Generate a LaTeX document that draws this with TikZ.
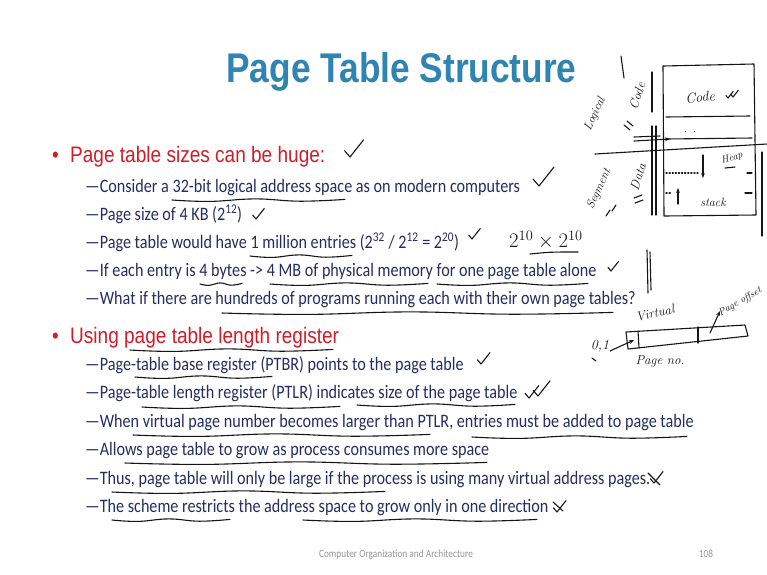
\documentclass[tikz,border=0pt]{standalone}
\usepackage{fontspec}
\newfontfamily\arialfont[FakeStretch=0.85]{Liberation Sans}
\newfontfamily\bodyfont[FakeStretch=0.85]{Carlito}
\usetikzlibrary{arrows.meta}

\definecolor{titleblue}{RGB}{48,132,178}
\definecolor{bulletred}{RGB}{206,30,42}
\definecolor{bodynavy}{RGB}{36,46,96}
\definecolor{footgrey}{RGB}{150,150,150}
\definecolor{ink}{RGB}{22,22,22}

% wavy hand-drawn underline from x=#1 to x=#2 at height #3
\newcommand\wavyline[3]{%
  \draw[hand] plot[smooth,tension=0.7] coordinates {(#1,#3) ({#1+0.22*(#2-#1)},{#3+1.4}) ({#1+0.48*(#2-#1)},{#3-1.1}) ({#1+0.74*(#2-#1)},{#3+1.2}) (#2,{#3-0.6})};}
% hand-drawn tick mark with its low point near (#1,#2), size #3
\newcommand\tickmark[3]{%
  \draw[hand] (#1,#2) ++({-0.3*#3},{-0.35*#3}) -- (#1,#2) -- ++({0.75*#3},{-0.95*#3});}

\tikzset{
  slidetitle/.style={anchor=base, inner sep=0, text=titleblue,
    font=\arialfont\bfseries\fontsize{41.5}{45}\selectfont},
  lvlone/.style={anchor=base west, inner sep=0, text=bulletred,
    font=\arialfont\fontsize{22.4}{26}\selectfont},
  lvltwo/.style={anchor=base west, inner sep=0, text=bodynavy,
    font=\bodyfont\fontsize{19}{23}\selectfont},
  foot/.style={anchor=base, inner sep=0, text=footgrey,
    font=\bodyfont\fontsize{11}{13}\selectfont},
  hand/.style={draw=ink, line width=1.1pt, line cap=round, line join=round},
  handtext/.style={inner sep=0, text=ink, font=\itshape\fontsize{12}{12}\selectfont},
}

\begin{document}
\begin{tikzpicture}[x=1pt,y=-1pt]
\useasboundingbox[fill=white] (0,0) rectangle (767,574);

% ---- title ----
\node[slidetitle] (title) at (401.5,82) {Page Table Structure};

% ---- first bullet ----
\node[lvlone] (b1dot) at (52,162) {\textbullet};
\node[lvlone] (b1) at (70,162) {Page table sizes can be huge:};
\node[lvltwo] (s11) at (85,192) {—Consider a 32-bit logical address space as on modern computers};
\node[lvltwo] (s12) at (85,220) {—Page size of 4 KB (2\textsuperscript{12})};
\node[lvltwo] (s13) at (85,248) {—Page table would have 1 million entries (2\textsuperscript{32} / 2\textsuperscript{12} = 2\textsuperscript{20})};
\node[lvltwo] (s14) at (85,276) {—If each entry is 4 bytes -> 4 MB of physical memory for one page table alone};
\node[lvltwo] (s15) at (85,304) {—What if there are hundreds of programs running each with their own page tables?};

% ---- second bullet ----
\node[lvlone] (b2dot) at (52,343) {\textbullet};
\node[lvlone] (b2) at (70,343) {Using page table length register};
\node[lvltwo] (s21) at (85,370) {—Page-table base register (PTBR) points to the page table};
\node[lvltwo] (s22) at (85,398.5) {—Page-table length register (PTLR) indicates size of the page table};
\node[lvltwo] (s23) at (85,427) {—When virtual page number becomes larger than PTLR, entries must be added to page table};
\node[lvltwo] (s24) at (85,455.5) {—Allows page table to grow as process consumes more space};
\node[lvltwo] (s25) at (85,484) {—Thus, page table will only be large if the process is using many virtual address pages.};
\node[lvltwo] (s26) at (85,512) {—The scheme restricts the address space to grow only in one direction};

% ---- footer ----
\node[foot] (footer) at (396,557) {Computer Organization and Architecture};
\node[foot] (pageno) at (706,557) {108};

% ---- hand-drawn underlines ----
\wavyline{172}{345}{200}
\wavyline{250}{352}{256}
\wavyline{200}{242}{284}
\wavyline{270}{428}{284}
\wavyline{437}{588}{284}
\wavyline{222}{613}{313}
\wavyline{130}{333}{350}
\wavyline{135}{272}{377}
\wavyline{142}{340}{407}
\wavyline{357}{515}{405}
\wavyline{133}{430}{435}
\wavyline{472}{687}{437}
\wavyline{125}{487}{463}
\wavyline{112}{385}{492}
\wavyline{112}{230}{520}
\wavyline{303}{537}{520}

% ---- tick marks ----
\tickmark{350}{157}{18}
\tickmark{539}{186}{20}
\tickmark{256}{219}{11}
\tickmark{472}{239}{11}
\tickmark{611}{271}{10}
\tickmark{481}{364}{12}
\tickmark{529}{398}{13}
\tickmark{538}{396}{16}
\tickmark{654}{483}{12}
\draw[hand] (648,473) -- (660,485);
\tickmark{557}{512}{12}
\draw[hand] (553,502) -- (563,511);

% ---- 2^10 x 2^10 note ----
\node[handtext, font=\fontsize{21}{21}\selectfont] (pow) at (546,240) {$2^{10}\times 2^{10}$};
\draw[hand] (530,254) .. controls (550,252) .. (578,252);
\draw[hand] (647,250) -- (648,293);
\draw[hand] (650,252) -- (651,290);

% ---- memory layout sketch ----
\draw[hand] (663,66) -- (754,64) -- (756,215) -- (664,216) -- cycle;
\draw[hand] (666,117) -- (750,116);
\draw[hand] (666,139) -- (752,138);
\draw[hand] (595,154) -- (767,144);
\draw[hand] (652,72) -- (652,112);
\draw[hand] (652,126) -- (652,215);
\draw[hand] (656,126) -- (656,215);
\draw[hand] (621,56) -- (624,78);
\draw[hand, -{Stealth[length=5pt]}] (634,141) -- (670,139);
\draw[hand] (634,137) -- (660,136);
\draw[hand] (762,152) -- (762,236);
\node[handtext, font=\itshape\fontsize{14}{14}\selectfont, rotate=5] (code) at (700,97) {Code};
\tickmark{728}{98}{7}
\tickmark{733}{97}{7}
\node[handtext] (dots1) at (690,132) {. .};
\draw[hand, dotted, line width=1.2pt] (666,173) -- (698,173);
\draw[hand] (747,173) -- (752,173);
\draw[hand, -{Stealth[length=5pt]}] (703,155) -- (703,178);
\node[handtext, font=\itshape\fontsize{10}{10}\selectfont, rotate=15] (heap) at (732,158) {Heap};
\draw[hand] (725,168) -- (735,167);
\draw[hand, dotted, line width=1.2pt] (666,193) -- (672,193);
\draw[hand] (745,193) -- (752,193);
\draw[hand, -{Stealth[length=5pt]}] (678,204) -- (678,188);
\node[handtext, font=\itshape\fontsize{12}{12}\selectfont] (stack) at (713,202) {stack};
\node[handtext, font=\itshape\fontsize{12}{12}\selectfont, rotate=65] (logical) at (595,114) {Logical};
\node[handtext, font=\itshape\fontsize{13}{13}\selectfont, rotate=72] (lcode) at (637,96) {Code};
\draw[hand] (627,121) -- (633,126);
\draw[hand] (624,125) -- (630,130);
\node[handtext, font=\itshape\fontsize{12}{12}\selectfont, rotate=65] (segment) at (599,189) {Segment};
\node[handtext, font=\itshape\fontsize{13}{13}\selectfont, rotate=72] (data) at (638,177) {Data};
\draw[hand] (634,198) -- (642,195);
\draw[hand] (635,203) -- (643,200);
\draw[hand] (610,210) -- (606,216);
\draw[hand] (616,205) -- (612,211);

% ---- virtual address sketch ----
\draw[hand] (626,332) -- (745,325) -- (748,336) -- (628,349) -- cycle;
\draw[hand] (638,331) -- (639,348);
\draw[hand] (698,327) -- (698,343);
\node[handtext, font=\itshape\fontsize{13}{13}\selectfont, rotate=12] (virt) at (655,313) {Virtual};
\node[handtext, font=\itshape\fontsize{13}{13}\selectfont] (pgno) at (660,361) {Page no.};
\node[handtext, font=\itshape\fontsize{10}{10}\selectfont, rotate=30] (pgoff) at (740,302) {Page offset};
\draw[hand, -{Stealth[length=5pt]}] (710,333) -- (720,311);
\node[handtext, font=\itshape\fontsize{14}{14}\selectfont] (zo) at (600,346) {0,1};
\draw[hand, -{Stealth[length=5pt]}] (610,351) -- (634,340);
\draw[hand] (592,358) -- (596,361);
\end{tikzpicture}
\end{document}
